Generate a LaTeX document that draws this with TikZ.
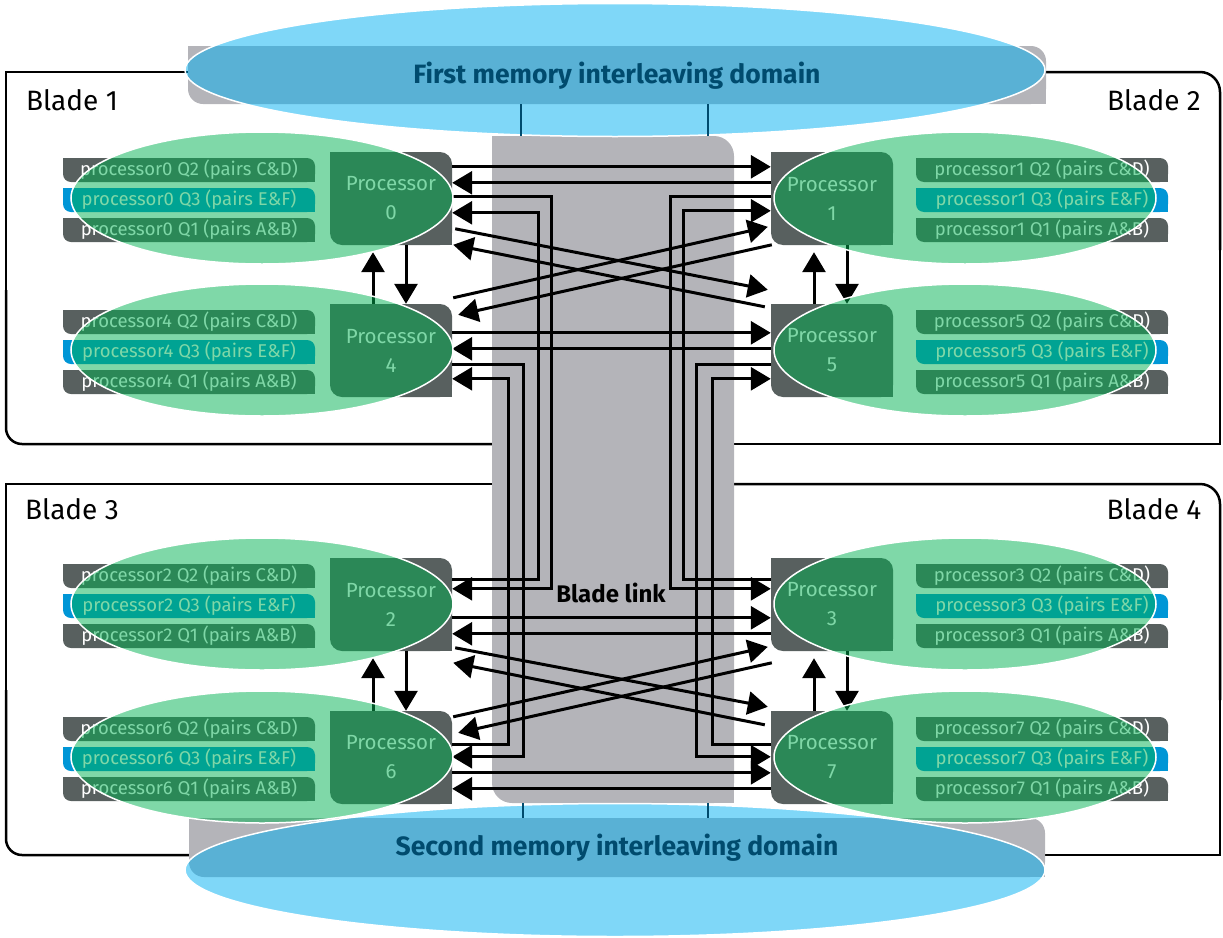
\documentclass[tikz,border=0pt]{standalone}
\usepackage{fontspec}
\setmainfont{Fira Sans}
\usetikzlibrary{arrows.meta,calc,positioning}
\definecolor{boxgray}{RGB}{88,96,95}
\definecolor{linkgray}{RGB}{180,180,185}
\definecolor{qblue}{RGB}{0,150,214}
\definecolor{ovgreen}{RGB}{0,177,81}
\definecolor{ovcyan}{RGB}{0,175,241}
\definecolor{domblue}{RGB}{0,75,110}

\begin{document}
\begin{tikzpicture}[x=1pt,y=-1pt,>={Triangle[length=20pt,width=23pt]},
  link/.style={->,line width=3pt},
  blade/.style={line width=2.5pt},
  proc/.style={fill=boxgray,rounded corners=12pt,minimum width=122,minimum height=93,inner sep=0pt,text=white,align=center,font={\fontsize{20.5}{29}\selectfont}},
  qbar/.style={rounded corners=8pt,minimum width=252,minimum height=24,inner sep=0pt,text=white,font={\fontsize{18.5}{20}\selectfont}},
  graybar/.style={fill=linkgray,inner sep=0pt},
  ring/.style={draw=white,line width=1.5pt,fill opacity=0.5},
  domtext/.style={text=domblue,anchor=base,font={\bfseries\fontsize{26.5}{28}\selectfont}},
  bladelabel/.style={font={\fontsize{28}{30}\selectfont}}]
\useasboundingbox (0,0) rectangle (1223,937);
% blade outlines (inner sides hidden under the blade link)
\draw[blade] (600,72) -- (6,72) -- (6,300);
\draw[blade,rounded corners=16pt] (6,290) -- (6,444) -- (600,444);
\draw[blade,rounded corners=20pt] (620,72) -- (1220,72) -- (1220,250);
\draw[blade] (1220,240) -- (1220,444) -- (620,444);
\draw[blade] (600,484) -- (6,484) -- (6,700);
\draw[blade,rounded corners=16pt] (6,690) -- (6,855) -- (600,855);
\draw[blade,rounded corners=20pt] (620,484) -- (1220,484) -- (1220,700);
\draw[blade] (1220,690) -- (1220,855) -- (620,855);
% blade link and memory bars
\node[graybar,rounded corners=20pt,minimum width=242,minimum height=667] (link) at (613,469.5) {};
\node[graybar,rounded corners=15pt,minimum width=858,minimum height=58] (mem1) at (617,75) {};
\node[graybar,rounded corners=15pt,minimum width=856,minimum height=59] (mem2) at (617,847.5) {};
\foreach \g/\r in {link/20,mem1/15,mem2/15}{
  \fill[linkgray] (\g.north west) rectangle ++(\r,\r);
  \fill[linkgray] (\g.south east) rectangle ++(-\r,-\r);
}
\node[bladelabel] (b1) at (72,100) {Blade 1};
\node[bladelabel] (b2) at (1154,100) {Blade 2};
\node[bladelabel] (b3) at (72,509) {Blade 3};
\node[bladelabel] (b4) at (1154,509) {Blade 4};
% processors and their queue bars
\foreach \pn/\px/\bx/\ty in {0/391/189/152,4/391/189/304,2/391/189/558,6/391/189/711,1/832/1042/152,5/832/1042/304,3/832/1042/558,7/832/1042/711}{
  \node[proc] (p\pn) at (\px,\ty+46.5) {Processor\\\pn};
  \fill[boxgray] (p\pn.north west) rectangle ++(12,12);
  \fill[boxgray] (p\pn.south east) rectangle ++(-12,-12);
  \foreach \q/\dy/\pr/\col in {Q2/18/{C\&D}/boxgray,Q3/48/{E\&F}/qblue,Q1/78/{A\&B}/boxgray}{
    \node[qbar,fill=\col] (p\pn\q) at (\bx,\ty+\dy) {processor\pn\ \q\ (pairs \pr)};
    \fill[\col] (p\pn\q.north west) rectangle ++(8,8);
    \fill[\col] (p\pn\q.south east) rectangle ++(-8,-8);
  }
}
% same blade, straight across
\foreach \a/\b/\u/\v in {0/1/15/31,4/5/29/45,2/3/60/76,6/7/62/78}{
  \draw[link] ($(p\a.north east)+(0,\u)$) -- ($(p\b.north west)+(0,\u)$);
  \draw[link] ($(p\b.north west)+(0,\v)$) -- ($(p\a.north east)+(0,\v)$);
}
% same blade, crossing
\draw[link] ($(p0.north east)+(3,77)$) -- ($(p5.north west)+(-3,-14)$);
\draw[link] ($(p5.north west)+(-6,3)$) -- ($(p0.north east)+(1,93)$);
\draw[link] ($(p4.north east)+(1,-6)$) -- ($(p1.north west)+(-3,75)$);
\draw[link] ($(p1.north west)+(1,93)$) -- ($(p4.north east)+(6,11)$);
\draw[link] ($(p2.north east)+(3,90)$) -- ($(p7.north west)+(-3,-4)$);
\draw[link] ($(p7.north west)+(-6,14)$) -- ($(p2.north east)+(1,105)$);
\draw[link] ($(p6.north east)+(1,6)$) -- ($(p3.north west)+(-3,89)$);
\draw[link] ($(p3.north west)+(1,105)$) -- ($(p6.north east)+(6,22)$);
% over the blade link
\foreach \a/\b/\s/\e/\dx in {0/2/45/31/99,2/0/22/61/86,4/6/61/46/71,6/4/34/75/56}
  \draw[link] ($(p\a.north east)+(0,\s)$) -- ++(\dx,0) |- ($(p\b.north east)+(0,\e)$);
\foreach \a/\b/\s/\e/\dx in {1/3/45/31/-100,3/1/22/59/-87,5/7/61/46/-74,7/5/34/75/-58}
  \draw[link] ($(p\a.north west)+(0,\s)$) -- ++(\dx,0) |- ($(p\b.north west)+(0,\e)$);
% up and down inside a blade
\foreach \a/\b in {4/0,6/2,5/1,7/3}{
  \draw[link,shorten >=7pt] ($(p\a.north)+(-18,0)$) -- ($(p\b.south)+(-18,0)$);
  \draw[link] ($(p\b.south)+(15,0)$) -- ($(p\a.north)+(15,0)$);
}
% processor rings
\foreach \ex/\ty in {262/152,262/304,262/558,262/711,965/152,965/304,965/558,965/711}
  \draw[ring,fill=ovgreen] (\ex,\ty+46) ellipse (191 and 66);
% memory interleaving domains
\draw[ring,fill=ovcyan] (615,70) ellipse (430 and 66.5);
\draw[ring,fill=ovcyan] (615,870) ellipse (430 and 66.5);
\draw[domblue,line width=2.5pt] ($(mem1.south)+(-96,0)$) -- ($(link.north)+(-92,0)$);
\draw[domblue,line width=2.5pt] ($(mem1.south)+(91,0)$) -- ($(link.north)+(95,0)$);
\draw[domblue,line width=2.5pt] ($(link.south)+(-90,0)$) -- ($(mem2.north)+(-94,0)$);
\draw[domblue,line width=2.5pt] ($(link.south)+(95,0)$) -- ($(mem2.north)+(91,0)$);
\node[domtext] (mem1txt) at (617,83) {First memory interleaving domain};
\node[domtext] (mem2txt) at (617,855) {Second memory interleaving domain};
\node[anchor=base,font={\bfseries\fontsize{24}{26}\selectfont}] (linktxt) at (611,602) {Blade link};
\end{tikzpicture}
\end{document}
